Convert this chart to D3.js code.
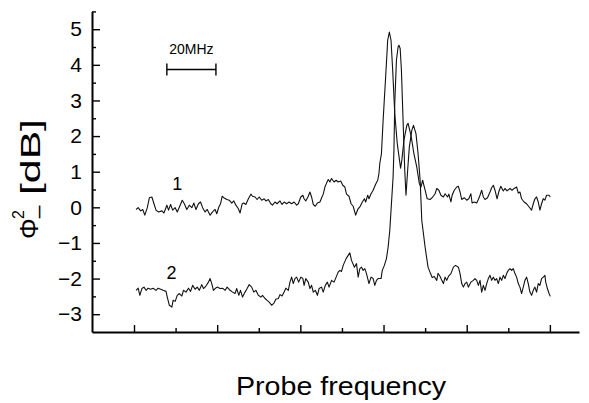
<!DOCTYPE html>
<html>
<head>
<meta charset="utf-8">
<script src="https://cdn.jsdelivr.net/npm/d3@7"></script>
<style>
  body { margin: 0; background: #fff; }
  svg { display: block; font-family: "Liberation Sans", Arial, sans-serif; }
  .axis path, .axis line { stroke: #000; }
</style>
</head>
<body>
<div id="chart"></div>
<script>
// probe spectra, x in tick units (unlabelled frequency axis), y in dB
const curve1 = [
  [0.05,-0.06],[0.10,-0.01],[0.16,-0.10],[0.21,-0.06],[0.26,-0.22],[0.32,-0.01],[0.37,0.27],[0.43,0.29],
  [0.48,0.10],[0.53,-0.08],[0.59,-0.13],[0.67,-0.10],[0.72,-0.16],[0.79,0.06],[0.83,-0.08],[0.88,0.08],
  [0.93,-0.08],[0.99,-0.01],[1.04,-0.13],[1.11,0.06],[1.16,0.20],[1.21,0.10],[1.27,-0.06],[1.33,0.06],
  [1.39,-0.01],[1.44,0.12],[1.49,-0.06],[1.55,0.10],[1.60,0.15],[1.65,-0.01],[1.71,-0.13],[1.76,-0.06],
  [1.83,-0.22],[1.89,-0.13],[1.95,-0.06],[1.99,-0.18],[2.04,0.01],[2.08,0.10],[2.12,0.31],[2.16,0.27],
  [2.23,0.22],[2.29,0.20],[2.35,0.12],[2.40,0.18],[2.45,0.06],[2.51,-0.04],[2.55,-0.16],[2.60,0.10],
  [2.64,0.12],[2.69,0.08],[2.75,0.24],[2.81,0.37],[2.85,0.31],[2.91,0.29],[2.96,0.22],[3.01,0.29],
  [3.07,0.20],[3.13,0.24],[3.17,0.18],[3.23,0.22],[3.29,0.10],[3.33,0.06],[3.39,0.15],[3.44,0.10],
  [3.51,0.18],[3.56,0.08],[3.61,0.15],[3.67,0.10],[3.73,0.15],[3.79,0.10],[3.85,0.15],[3.91,0.06],
  [3.95,0.10],[4.01,0.29],[4.06,0.34],[4.09,0.24],[4.13,0.18],[4.19,0.31],[4.23,0.43],[4.27,0.29],
  [4.31,0.08],[4.36,0.03],[4.41,0.12],[4.47,0.15],[4.52,0.29],[4.55,0.37],[4.59,0.57],[4.63,0.68],
  [4.67,0.78],[4.71,0.71],[4.75,0.81],[4.81,0.71],[4.86,0.76],[4.91,0.71],[4.97,0.74],[5.02,0.62],
  [5.07,0.57],[5.11,0.37],[5.17,0.31],[5.22,0.10],[5.27,0.03],[5.33,-0.22],[5.38,-0.06],[5.43,0.01],
  [5.49,0.15],[5.54,0.24],[5.57,0.15],[5.62,0.34],[5.65,0.24],[5.70,0.38],[5.75,0.48],[5.81,0.65],
  [5.86,0.76],[5.89,0.95],[5.91,1.23],[5.95,1.51],[5.99,2.44],[6.06,3.85],[6.10,4.69],[6.14,4.92],
  [6.18,4.69],[6.22,3.85],[6.27,2.63],[6.33,1.79],[6.41,1.10],[6.44,1.32],[6.49,1.88],[6.56,2.30],
  [6.59,2.36],[6.66,2.02],[6.73,1.51],[6.80,1.13],[6.86,0.67],[6.90,0.57],[6.94,0.76],[7.00,0.48],
  [7.05,0.24],[7.12,0.22],[7.17,0.27],[7.24,0.38],[7.28,0.53],[7.33,0.48],[7.38,0.34],[7.44,0.29],
  [7.48,0.38],[7.54,0.29],[7.57,0.37],[7.62,0.15],[7.65,0.34],[7.70,0.48],[7.76,0.57],[7.80,0.59],
  [7.84,0.43],[7.88,0.22],[7.94,0.27],[8.00,0.20],[8.05,0.24],[8.10,0.38],[8.13,0.12],[8.18,0.15],
  [8.24,0.12],[8.28,0.22],[8.32,0.34],[8.36,0.48],[8.40,0.29],[8.44,0.22],[8.50,0.27],[8.56,0.43],
  [8.60,0.55],[8.64,0.62],[8.68,0.48],[8.73,0.24],[8.77,0.43],[8.82,0.59],[8.88,0.46],[8.92,0.53],
  [8.97,0.46],[9.04,0.53],[9.09,0.48],[9.14,0.53],[9.20,0.57],[9.24,0.40],[9.28,0.43],[9.32,0.24],
  [9.38,0.15],[9.44,0.10],[9.50,0.01],[9.56,-0.08],[9.60,0.10],[9.64,0.24],[9.68,0.29],[9.72,0.15],
  [9.76,-0.08],[9.80,0.10],[9.84,0.24],[9.88,0.20],[9.92,0.34],[9.98,0.34],[10.01,0.29]
];

const curve2 = [
  [0.05,-2.33],[0.10,-2.27],[0.14,-2.47],[0.19,-2.28],[0.24,-2.24],[0.29,-2.33],[0.34,-2.27],[0.40,-2.30],
  [0.46,-2.27],[0.53,-2.33],[0.58,-2.27],[0.64,-2.30],[0.70,-2.33],[0.77,-2.36],[0.80,-2.52],[0.85,-2.75],
  [0.91,-2.80],[0.94,-2.61],[0.99,-2.64],[1.04,-2.47],[1.09,-2.42],[1.15,-2.49],[1.19,-2.33],[1.25,-2.38],
  [1.31,-2.27],[1.36,-2.36],[1.41,-2.19],[1.47,-2.30],[1.52,-2.24],[1.57,-2.33],[1.63,-2.17],[1.67,-2.28],
  [1.73,-2.21],[1.79,-2.10],[1.83,-2.00],[1.87,-2.14],[1.91,-2.33],[1.95,-2.28],[2.00,-2.24],[2.07,-2.28],
  [2.13,-2.27],[2.19,-2.33],[2.24,-2.24],[2.31,-2.33],[2.37,-2.38],[2.43,-2.42],[2.47,-2.28],[2.52,-2.47],
  [2.56,-2.33],[2.61,-2.52],[2.67,-2.38],[2.72,-2.28],[2.77,-2.17],[2.83,-2.24],[2.88,-2.38],[2.93,-2.33],
  [2.99,-2.47],[3.05,-2.52],[3.09,-2.47],[3.15,-2.56],[3.20,-2.61],[3.25,-2.66],[3.31,-2.75],[3.37,-2.68],
  [3.41,-2.58],[3.47,-2.56],[3.51,-2.45],[3.56,-2.49],[3.61,-2.38],[3.65,-2.27],[3.71,-2.33],[3.75,-2.10],
  [3.79,-1.96],[3.83,-2.14],[3.87,-2.00],[3.91,-1.96],[3.96,-2.10],[4.01,-1.96],[4.06,-2.00],[4.09,-2.19],
  [4.13,-2.00],[4.19,-2.10],[4.23,-2.28],[4.27,-2.19],[4.31,-2.38],[4.36,-2.33],[4.41,-2.47],[4.45,-2.28],
  [4.51,-2.24],[4.55,-2.38],[4.60,-2.19],[4.65,-2.10],[4.69,-2.24],[4.75,-2.05],[4.81,-2.10],[4.86,-1.96],
  [4.91,-1.82],[4.95,-1.77],[4.99,-1.80],[5.03,-1.63],[5.10,-1.44],[5.15,-1.35],[5.19,-1.28],[5.23,-1.49],
  [5.30,-1.68],[5.35,-1.58],[5.39,-1.96],[5.43,-1.72],[5.47,-1.68],[5.51,-1.77],[5.55,-1.72],[5.59,-1.86],
  [5.65,-2.14],[5.70,-1.96],[5.75,-2.00],[5.79,-2.19],[5.83,-2.05],[5.87,-2.00],[5.94,-2.00],[5.97,-1.77],
  [6.02,-1.63],[6.07,-1.44],[6.11,-1.12],[6.15,-0.65],[6.19,0.10],[6.23,0.85],[6.25,1.60],[6.27,2.92],
  [6.31,4.13],[6.35,4.50],[6.37,4.55],[6.40,4.46],[6.43,3.85],[6.47,2.44],[6.51,1.04],[6.54,0.34],
  [6.58,1.04],[6.62,1.69],[6.68,2.16],[6.72,2.30],[6.78,2.07],[6.83,1.51],[6.88,0.76],[6.92,-0.37],
  [7.00,-1.12],[7.07,-1.68],[7.13,-1.86],[7.17,-1.97],[7.22,-1.94],[7.28,-2.05],[7.31,-1.85],[7.36,-1.94],
  [7.40,-2.05],[7.44,-2.14],[7.48,-1.96],[7.52,-2.05],[7.56,-1.94],[7.62,-1.86],[7.68,-1.68],[7.73,-1.63],
  [7.80,-1.68],[7.84,-1.86],[7.88,-2.14],[7.92,-2.24],[7.96,-2.14],[8.00,-2.10],[8.04,-2.24],[8.10,-2.10],
  [8.16,-2.05],[8.20,-2.00],[8.24,-2.05],[8.28,-2.19],[8.32,-2.05],[8.36,-2.38],[8.40,-2.19],[8.44,-2.33],
  [8.48,-2.14],[8.52,-2.00],[8.56,-1.91],[8.60,-2.05],[8.64,-1.96],[8.68,-2.05],[8.72,-2.00],[8.76,-2.14],
  [8.80,-1.96],[8.84,-2.05],[8.88,-1.91],[8.92,-2.00],[8.96,-1.86],[9.00,-1.77],[9.04,-1.72],[9.08,-1.77],
  [9.12,-1.72],[9.16,-1.86],[9.20,-1.96],[9.24,-2.14],[9.28,-2.24],[9.32,-2.42],[9.36,-2.24],[9.40,-2.05],
  [9.44,-1.96],[9.48,-2.14],[9.52,-2.38],[9.56,-2.47],[9.60,-2.33],[9.64,-2.24],[9.68,-2.38],[9.72,-2.14],
  [9.76,-2.19],[9.80,-2.00],[9.84,-1.96],[9.88,-1.91],[9.90,-2.10],[9.94,-2.28],[9.98,-2.42],[10.01,-2.50]
];

const yTicks = [-3, -2, -1, 0, 1, 2, 3, 4, 5];
const yMinorTicks = [-2.5, -1.5, -0.5, 0.5, 1.5, 2.5, 3.5, 4.5, 5.5];
const xTicks = [0, 2, 4, 6, 8, 10];
const xMinorTicks = [1, 3, 5, 7, 9];
const curveLabels = [{text: '1', x: 1.04, y: 0.5}, {text: '2', x: 0.90, y: -2.0}];
const scaleBar = {from: 0.79, to: 1.97, y: 3.87, label: '20MHz'};

const width = 589, height = 403;

const svg = d3.select('#chart').append('svg')
  .attr('width', width)
  .attr('height', height);

const x = d3.scaleLinear().domain([-1.01, 10.7]).range([92, 579]);
const y = d3.scaleLinear().domain([-3.5, 5.5]).range([332, 11.4]);

// axes (ticks point inward)
const xAxisG = svg.append('g')
  .attr('class', 'axis')
  .attr('transform', `translate(0,${y.range()[0]})`)
  .call(d3.axisBottom(x).tickValues(xTicks).tickSizeInner(-7).tickSizeOuter(0).tickFormat(''));
xAxisG.append('g')
  .call(d3.axisBottom(x).tickValues(xMinorTicks).tickSizeInner(-4).tickSizeOuter(0).tickFormat(''))
  .select('.domain').remove();

const yAxisG = svg.append('g')
  .attr('class', 'axis')
  .attr('transform', `translate(${x.range()[0]},0)`)
  .call(d3.axisLeft(y).tickValues(yTicks).tickSizeInner(-8).tickSizeOuter(0).tickPadding(10));
yAxisG.append('g')
  .call(d3.axisLeft(y).tickValues(yMinorTicks).tickSizeInner(-4).tickSizeOuter(0).tickFormat(''))
  .select('.domain').remove();

svg.selectAll('.axis .domain').attr('stroke-width', 2);
svg.selectAll('.axis .tick line').attr('stroke-width', 1.4);
yAxisG.selectAll('.tick text')
  .attr('font-size', 21)
  .attr('font-family', '"Liberation Sans", Arial, sans-serif')
  .attr('fill', '#000');

// curves
const line = d3.line().x(d => x(d[0])).y(d => y(d[1]));
[curve1, curve2].forEach(c => {
  svg.append('path')
    .datum(c)
    .attr('d', line)
    .attr('fill', 'none')
    .attr('stroke', '#111')
    .attr('stroke-width', 1.1)
    .attr('stroke-linejoin', 'round');
});

svg.selectAll('.curve-label')
  .data(curveLabels)
  .enter().append('text')
    .attr('class', 'curve-label')
    .attr('x', d => x(d.x))
    .attr('y', d => y(d.y))
    .attr('text-anchor', 'middle')
    .attr('font-size', 18)
    .text(d => d.text);

// 20 MHz scale bar
const sb = svg.append('g');
sb.append('line')
  .attr('x1', x(scaleBar.from)).attr('x2', x(scaleBar.to))
  .attr('y1', y(scaleBar.y)).attr('y2', y(scaleBar.y))
  .attr('stroke', '#000').attr('stroke-width', 1.4);
[scaleBar.from, scaleBar.to].forEach(v => {
  sb.append('line')
    .attr('x1', x(v)).attr('x2', x(v))
    .attr('y1', y(scaleBar.y) - 6).attr('y2', y(scaleBar.y) + 6)
    .attr('stroke', '#000').attr('stroke-width', 1.4);
});
sb.append('text')
  .attr('x', (x(scaleBar.from) + x(scaleBar.to)) / 2)
  .attr('y', y(scaleBar.y) - 15)
  .attr('text-anchor', 'middle')
  .attr('font-size', 14)
  .text(scaleBar.label);

// axis titles
svg.append('text')
  .attr('x', 341)
  .attr('y', 395)
  .attr('text-anchor', 'middle')
  .attr('font-size', 25)
  .attr('textLength', 210)
  .attr('lengthAdjust', 'spacingAndGlyphs')
  .text('Probe frequency');

// rotated y title: Φ with superscript 2 and subscript dash, then [dB]
const yTitle = svg.append('g')
  .attr('transform', 'translate(38,239) rotate(-90)')
  .attr('font-size', 26);
yTitle.append('text').attr('x', 0).attr('y', 0).text('Φ');
yTitle.append('text').attr('x', 20).attr('y', -14).attr('font-size', 16).text('2');
yTitle.append('text').attr('x', 21).attr('y', -2).attr('font-size', 22).text('_');
yTitle.append('text')
  .attr('x', 44).attr('y', 2)
  .attr('font-size', 27)
  .attr('textLength', 76)
  .attr('lengthAdjust', 'spacingAndGlyphs')
  .text('[dB]');
</script>
</body>
</html>
